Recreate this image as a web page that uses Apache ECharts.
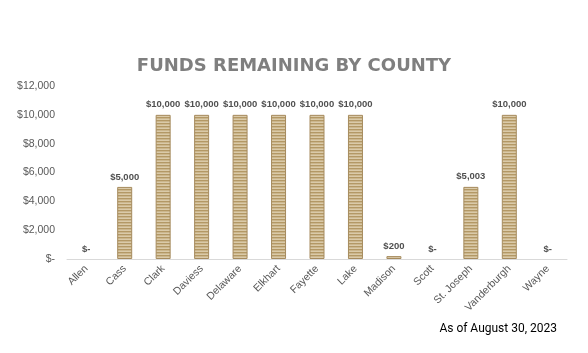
<!DOCTYPE html>
<html>
<head>
<meta charset="utf-8">
<script src="https://cdn.jsdelivr.net/npm/echarts@6/dist/echarts.min.js"></script>
<style>
  html, body { margin: 0; padding: 0; background: #fff; }
  #chart { width: 588px; height: 353px; }
</style>
</head>
<body>
<div id="chart"></div>
<script>
var counties = ['Allen', 'Cass', 'Clark', 'Daviess', 'Delaware', 'Elkhart', 'Fayette',
                'Lake', 'Madison', 'Scott', 'St. Joseph', 'Vanderburgh', 'Wayne'];
var remaining = [0, 5000, 10000, 10000, 10000, 10000, 10000, 10000, 200, 0, 5003, 10000, 0];

// striped fill like the original bars
function stripes() {
    var c = document.createElement('canvas');
    c.width = 4;
    c.height = 3;
    var ctx = c.getContext('2d');
    ctx.fillStyle = '#dacaa9';
    ctx.fillRect(0, 0, 4, 3);
    ctx.fillStyle = '#b39865';
    ctx.fillRect(0, 0, 4, 1.4);
    return c;
}

function money(v) {
    if (v === 0) return '$-';
    return '$' + v.toLocaleString('en-US');
}

// zero bars get no outline, so nothing shows on the axis
var barData = remaining.map(function (v) {
    return v === 0 ? { value: v, itemStyle: { borderWidth: 0 } } : v;
});

var chart = echarts.init(document.getElementById('chart'));
chart.setOption({
    animation: false,
    backgroundColor: '#ffffff',
    title: {
        text: 'FUNDS REMAINING BY COUNTY',
        left: 'center',
        top: 52,
        textStyle: {
            fontFamily: 'DejaVu Sans',
            fontWeight: 'bold',
            fontSize: 18,
            color: '#7f7f7f'
        }
    },
    graphic: [{
        type: 'text',
        right: 31,
        top: 323,
        style: {
            text: 'As of August 30, 2023',
            font: '12px Roboto',
            fill: '#000000'
        }
    }],
    grid: { left: 67, right: 21, top: 86, bottom: 94 },
    xAxis: {
        type: 'category',
        data: counties,
        axisLine: { lineStyle: { color: '#d9d9d9', width: 1 } },
        axisTick: { show: false },
        axisLabel: {
            rotate: 45,
            interval: 0,
            margin: 8,
            fontFamily: 'Liberation Sans',
            fontSize: 10.5,
            color: '#595959'
        }
    },
    yAxis: {
        type: 'value',
        min: 0,
        max: 12000,
        interval: 2000,
        splitLine: { show: false },
        axisLine: { show: false },
        axisTick: { show: false },
        axisLabel: {
            margin: 12,
            fontFamily: 'Liberation Sans',
            fontSize: 10.5,
            color: '#595959',
            formatter: money
        }
    },
    series: [{
        type: 'bar',
        data: barData,
        barWidth: 15,
        itemStyle: {
            color: { image: stripes(), repeat: 'repeat' },
            borderColor: '#a68b5e',
            borderWidth: 1
        },
        label: {
            show: true,
            position: 'top',
            distance: 5,
            fontFamily: 'Liberation Sans',
            fontWeight: 'bold',
            fontSize: 9.5,
            color: '#505050',
            formatter: function (p) { return money(p.value); }
        }
    }]
});
</script>
</body>
</html>
